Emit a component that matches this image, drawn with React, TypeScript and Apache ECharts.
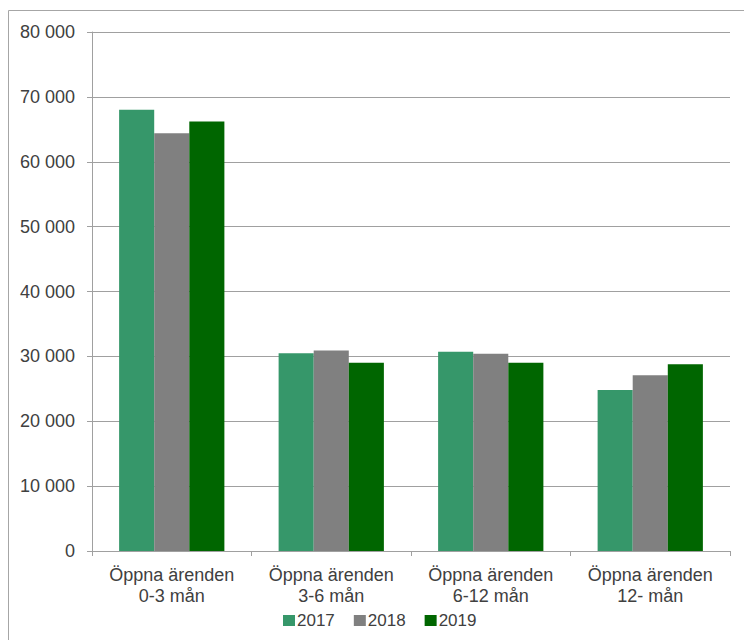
import React, { useEffect, useRef } from "react";
import * as echarts from "echarts";

const categories = [
  "Öppna ärenden\n0-3 mån",
  "Öppna ärenden\n3-6 mån",
  "Öppna ärenden\n6-12 mån",
  "Öppna ärenden\n12- mån",
];
const seriesNames = ["2017", "2018", "2019"];
const values2017 = [68000, 30500, 30700, 24800];
const values2018 = [64400, 30900, 30400, 27100];
const values2019 = [66200, 29000, 29000, 28800];
const colors = ["#36976a", "#808080", "#006600"];

const fmt = (v: number) =>
  String(v).replace(/\B(?=(\d{3})+(?!\d))/g, " ");

export default function App() {
  const ref = useRef<HTMLDivElement>(null);
  useEffect(() => {
    if (!ref.current) return;
    const chart = echarts.init(ref.current, undefined, { renderer: "svg" });
    const font = "Liberation Sans";
    const data = [values2017, values2018, values2019];
    chart.setOption({
      animation: false,
      backgroundColor: "#ffffff",
      graphic: [
        {
          type: "polyline",
          shape: { points: [[8.5, 700], [8.5, 10.5], [800, 10.5]] },
          style: { fill: "none", stroke: "#a6a6a6", lineWidth: 1 },
          silent: true,
        },
      ],
      grid: { left: 92, right: 14, top: 32, bottom: 89, containLabel: false },
      legend: {
        data: seriesNames,
        top: 612,
        left: 283,
        padding: 0,
        icon: "rect",
        itemWidth: 12,
        itemHeight: 11,
        itemGap: 19,
        textStyle: { fontFamily: font, fontSize: 17, color: "#404040", padding: [0, 0, 0, -3] },
      },
      xAxis: {
        type: "category",
        data: categories,
        axisLine: { show: true, lineStyle: { color: "#a0a0a0", width: 1 } },
        axisTick: { show: true, length: 5, lineStyle: { color: "#a0a0a0" } },
        axisLabel: {
          interval: 0,
          fontFamily: font,
          fontSize: 18,
          color: "#404040",
          lineHeight: 21,
          margin: 13,
        },
      },
      yAxis: {
        type: "value",
        min: 0,
        max: 80000,
        interval: 10000,
        axisLine: { show: true, lineStyle: { color: "#a0a0a0", width: 1 } },
        axisTick: { show: true, length: 5, lineStyle: { color: "#a0a0a0" } },
        splitLine: { show: true, lineStyle: { color: "#a0a0a0", width: 1 } },
        axisLabel: {
          fontFamily: font,
          fontSize: 18,
          color: "#404040",
          margin: 17,
          formatter: (v: number) => fmt(v),
        },
      },
      series: seriesNames.map((name, i) => ({
        name,
        type: "bar",
        data: data[i],
        barGap: "0%",
        barCategoryGap: "34%",
        itemStyle: { color: colors[i] },
      })),
    });
    return () => chart.dispose();
  }, []);
  return (
    <div
      ref={ref}
      style={{ position: "absolute", left: 0, top: 0, width: 744, height: 640 }}
    />
  );
}
